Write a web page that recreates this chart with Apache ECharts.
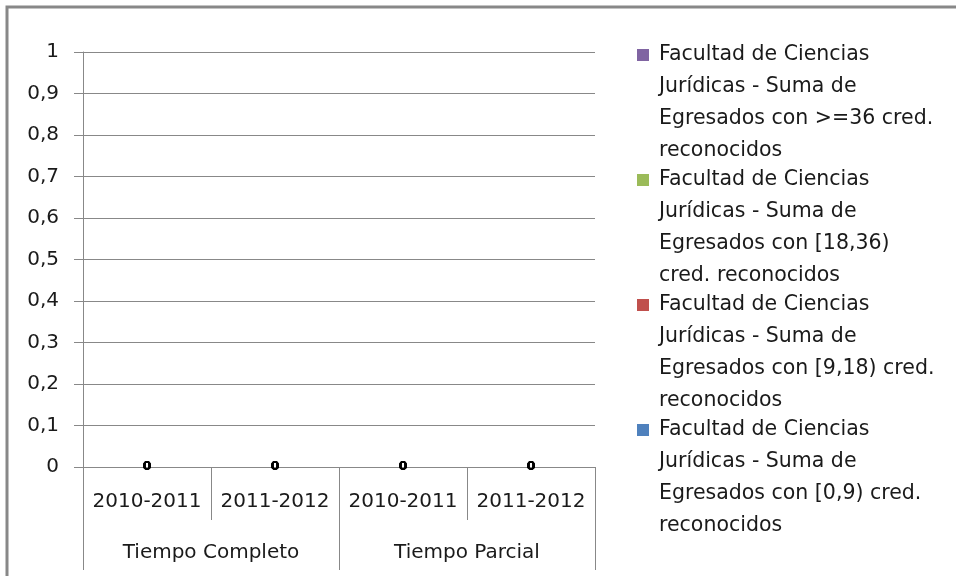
<!DOCTYPE html>
<html>
<head>
<meta charset="utf-8">
<script src="https://cdn.jsdelivr.net/npm/echarts@6/dist/echarts.min.js"></script>
<style>
  html, body { margin: 0; padding: 0; background: #fff; }
  #main { width: 956px; height: 576px; }
</style>
</head>
<body>
<div id="main"></div>
<script>
// categories (two levels)
const periodos = ['2010-2011', '2011-2012', '2010-2011', '2011-2012'];
const modalidades = ['Tiempo Completo', 'Tiempo Parcial'];

// series (stack order bottom -> top)
const serieNombres = [
    'Facultad de Ciencias\nJurídicas - Suma de\nEgresados con [0,9) cred.\nreconocidos',
    'Facultad de Ciencias\nJurídicas - Suma de\nEgresados con [9,18) cred.\nreconocidos',
    'Facultad de Ciencias\nJurídicas - Suma de\nEgresados con [18,36)\ncred. reconocidos',
    'Facultad de Ciencias\nJurídicas - Suma de\nEgresados con >=36 cred.\nreconocidos'
];
const serieColores = ['#4F81BD', '#C0504D', '#9BBB59', '#8064A2'];
const valores09 = [0, 0, 0, 0];
const valores918 = [0, 0, 0, 0];
const valores1836 = [0, 0, 0, 0];
const valores36 = [0, 0, 0, 0];

const yTicks = { min: 0, max: 1, interval: 0.1 };

const FONT = 'DejaVu Sans';
const gris = '#888888';

let dom = document.getElementById('main');
let chart = echarts.init(dom);

const todos = [valores09, valores918, valores1836, valores36];
let series = todos.map(function (vals, i) {
    return {
        name: serieNombres[i],
        type: 'bar',
        stack: 'total',
        xAxisIndex: 0,
        barWidth: '50%',
        itemStyle: { color: serieColores[i] },
        label: {
            show: true,
            position: 'inside',
            fontFamily: FONT,
            fontWeight: 'bold',
            fontSize: 13,
            color: '#000'
        },
        data: vals
    };
});

let option = {
    animation: false,
    graphic: [{
        type: 'rect',
        shape: { x: 7, y: 7, width: 1000, height: 600 },
        style: { fill: 'none', stroke: gris, lineWidth: 3 },
        silent: true
    }],
    grid: { left: 83, right: 361, top: 52, bottom: 109 },
    legend: {
        orient: 'vertical',
        left: 632,
        top: -62,
        itemWidth: 12,
        itemHeight: 12,
        itemGap: -99,
        icon: 'rect',
        data: serieNombres.slice().reverse(),
        // three blank lines above so the square sits next to the first line
        formatter: function (name) {
            return '\n\n\n' + name;
        },
        textStyle: {
            fontFamily: FONT,
            fontSize: 20.5,
            lineHeight: 32,
            color: '#1a1a1a',
            padding: [0, 0, 0, 5]
        }
    },
    xAxis: [{
        type: 'category',
        position: 'bottom',
        data: periodos,
        axisLine: { show: true, lineStyle: { color: gris } },
        axisTick: { show: true, length: 53, interval: 0, lineStyle: { color: gris } },
        axisLabel: { interval: 0, margin: 25, fontFamily: FONT, fontSize: 20, color: '#1a1a1a' }
    }, {
        type: 'category',
        position: 'bottom',
        offset: 53,
        data: modalidades,
        axisLine: { show: false },
        axisTick: { show: true, length: 50, interval: 0, lineStyle: { color: gris } },
        axisLabel: { interval: 0, margin: 23, fontFamily: FONT, fontSize: 20, color: '#1a1a1a' }
    }],
    yAxis: {
        type: 'value',
        min: yTicks.min,
        max: yTicks.max,
        interval: yTicks.interval,
        axisLine: { show: true, lineStyle: { color: gris } },
        axisTick: { show: true, length: 9, lineStyle: { color: gris } },
        splitLine: { show: true, lineStyle: { color: gris } },
        axisLabel: {
            margin: 24,
            fontFamily: FONT,
            fontSize: 20,
            color: '#1a1a1a',
            formatter: function (v) {
                return String(+v.toFixed(1)).replace('.', ',');
            }
        }
    },
    series: series
};

chart.setOption(option);
window.addEventListener('resize', function () {
    chart.resize();
});
</script>
</body>
</html>
